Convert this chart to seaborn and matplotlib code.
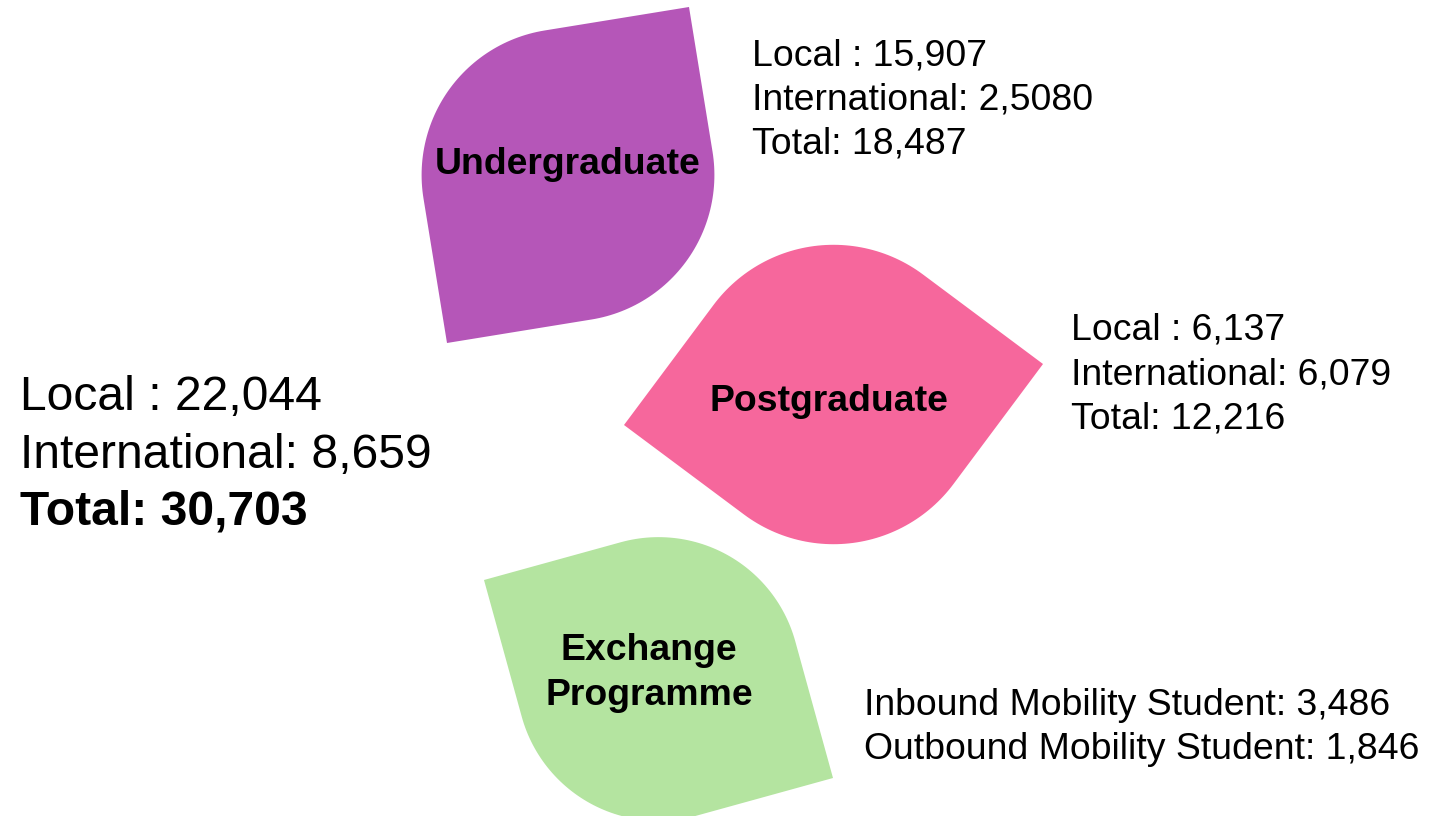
import numpy as np
import matplotlib
matplotlib.use("Agg")
import matplotlib.pyplot as plt
from matplotlib.patches import Polygon
import seaborn as sns

# ---------------- data ----------------
categories = ["Undergraduate", "Postgraduate", "Exchange\nProgramme"]
ug_lines = ["Local : 15,907", "International: 2,5080", "Total: 18,487"]
pg_lines = ["Local : 6,137", "International: 6,079", "Total: 12,216"]
ex_lines = ["Inbound Mobility Student: 3,486", "Outbound Mobility Student: 1,846"]
overall_lines = ["Local : 22,044", "International: 8,659", "Total: 30,703"]
leaf_colors = ["#B556B8", "#F6679C", "#B4E4A0"]

# ---------------- layout (pixel space) ----------------
W, H = 1450, 816
# sharp-corner pairs of each leaf
leaf_tips = [((447, 343), (689, 7)),
             ((624, 425), (1043, 364)),
             ((484, 580), (833, 778))]
label_pos = [(568, 174), (829, 411), (649, 660)]
detail_pos = [(752, 65), (1071, 340), (864, 715)]
detail_step = 44.3
overall_pos = (20, 410)
overall_step = 57.5

sns.set_theme(style="white")
plt.rcParams["font.family"] = ["Liberation Sans", "DejaVu Sans"]

fig = plt.figure(figsize=(W / 100, H / 100), dpi=100)
ax = fig.add_axes([0, 0, 1, 1])
ax.set_xlim(0, W)
ax.set_ylim(H, 0)
ax.axis("off")


def leaf_outline(p1, p2, n=60):
    # unit square with sharp corners at (0,0),(1,1); other corners rounded r=0.5
    pts = [0 + 0j, 0.5 + 0j]
    t = np.linspace(-np.pi / 2, 0, n)
    pts += list(0.5 + 0.5j + 0.5 * np.exp(1j * t))
    pts += [1 + 1j, 0.5 + 1j]
    t = np.linspace(np.pi / 2, np.pi, n)
    pts += list(0.5 + 0.5j + 0.5 * np.exp(1j * t))
    z = np.array(pts)
    a = complex(*p1)
    b = complex(*p2)
    k = (b - a) / (1 + 1j)
    zz = a + k * z
    return np.column_stack([zz.real, zz.imag])


for (p1, p2), col, lab, (lx, ly) in zip(leaf_tips, leaf_colors, categories, label_pos):
    ax.add_patch(Polygon(leaf_outline(p1, p2), closed=True, facecolor=col,
                         edgecolor="none", zorder=1))
    lines = lab.split("\n")
    for i, ln in enumerate(lines):
        ax.text(lx, ly + i * 45, ln, ha="center", va="baseline",
                fontsize=26.9, fontweight="bold", color="black", zorder=3)

for lines, (x, y) in zip([ug_lines, pg_lines, ex_lines], detail_pos):
    for i, ln in enumerate(lines):
        ax.text(x, y + i * detail_step, ln, ha="left", va="baseline",
                fontsize=26.9, color="black", zorder=3)

for i, ln in enumerate(overall_lines):
    ax.text(overall_pos[0], overall_pos[1] + i * overall_step, ln,
            ha="left", va="baseline", fontsize=34.6,
            fontweight="bold" if i == 2 else "normal", color="black", zorder=3)

fig.savefig("out.png", dpi=100, facecolor="white")
